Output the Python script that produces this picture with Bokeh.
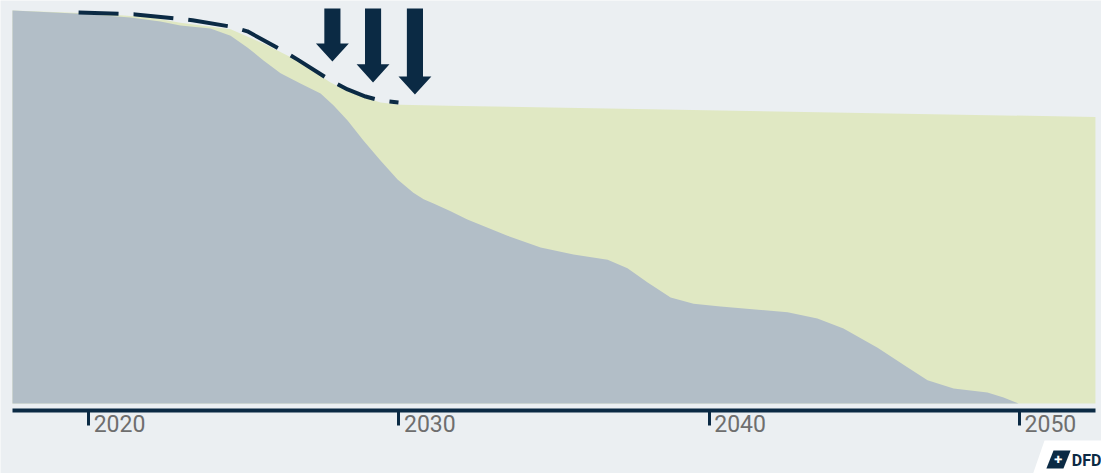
from bokeh.plotting import figure
from bokeh.models import Range1d, FixedTicker, LinearAxis, PolyAnnotation, Label
from bokeh.embed import file_html
from bokeh.resources import INLINE

# Fleet energy use relative to today (%), by year
remaining_years = [2017.55, 2019.74, 2021.35, 2022.32, 2022.96, 2023.93, 2024.58, 2025.12,
                   2025.64, 2026.19, 2026.83, 2027.48, 2027.90, 2028.35, 2028.86, 2029.41,
                   2029.96, 2030.47, 2030.80, 2031.12, 2031.67, 2032.21, 2033.50, 2034.57,
                   2035.63, 2036.73, 2037.37, 2038.02, 2038.76, 2039.50, 2040.37, 2042.53,
                   2043.49, 2044.33, 2045.43, 2046.39, 2047.04, 2047.88, 2048.97, 2049.49,
                   2049.87, 2049.97, 2052.45]
remaining_values = [100.0, 99.2, 98.2, 97.2, 96.2, 95.4, 93.6, 90.6,
                    87.3, 84.0, 81.4, 78.9, 75.8, 72.0, 66.9, 61.8,
                    57.0, 53.6, 52.0, 50.9, 48.9, 46.8, 42.7, 39.7,
                    37.9, 36.6, 34.4, 30.8, 27.0, 25.4, 24.7, 23.2,
                    21.6, 19.1, 14.2, 9.2, 5.9, 3.8, 2.8, 1.5,
                    0.3, 0.0, 0.0]

total_years = [2017.55, 2020.39, 2022.00, 2022.96, 2024.58, 2025.64, 2026.73, 2027.80,
               2028.44, 2029.41, 2030.05, 2031.99, 2052.45]
total_values = [100.0, 99.2, 98.2, 96.9, 95.2, 91.6, 87.3, 81.7,
                79.1, 76.6, 76.0, 75.7, 72.9]

target_years = [2019.68, 2021.51, 2022.80, 2023.35, 2024.58, 2025.12, 2026.19, 2026.74,
                2027.80, 2028.35, 2028.93, 2029.41, 2029.99]
target_values = [99.5, 99.0, 98.0, 97.5, 95.9, 94.7, 90.1, 87.5,
                 82.2, 79.9, 78.1, 77.1, 76.6]

arrow_years = [2027.86, 2029.17, 2030.52]
arrow_tops = [100.5, 100.5, 100.5]
arrow_tips = [87.0, 81.7, 78.6]

tick_years = [2020, 2030, 2040, 2050]
tick_labels = ["2020", "2030", "2040", "2050"]

NAVY = "#0b2a44"
GREY = "#b2bec7"
GREEN = "#e0e8c3"
BG = "#ebeff2"

X_START, X_END = 2017.164, 2052.646
Y_START, Y_END = -17.81, 102.54
AXIS_Y = -1.78          # where the time axis sits
LABEL_SHIFT = 1.0       # labels sit just right of their tick

p = figure(width=1101, height=473, output_backend="svg", toolbar_location=None,
           x_range=Range1d(X_START, X_END), y_range=Range1d(Y_START, Y_END),
           min_border=0, x_axis_location=None, y_axis_location=None,
           background_fill_color=BG, border_fill_color=BG, outline_line_color=None)
p.grid.visible = False
p.extra_x_ranges = {"labels": Range1d(X_START - LABEL_SHIFT, X_END - LABEL_SHIFT)}

# stacked areas
p.varea(x=total_years, y1=0, y2=total_values, fill_color=GREEN)
p.varea(x=remaining_years, y1=0, y2=remaining_values, fill_color=GREY)

# dashed target path
p.line(target_years, target_values, line_color=NAVY, line_width=4,
       line_dash="40 15", line_cap="butt")

# downward arrows
SHAFT_HALF = 0.26   # years
HEAD_HALF = 0.53    # years
HEAD_LEN = 4.6      # percent
axs, ays = [], []
for cx, top, tip in zip(arrow_years, arrow_tops, arrow_tips):
    neck = tip + HEAD_LEN
    axs.append([cx - SHAFT_HALF, cx + SHAFT_HALF, cx + SHAFT_HALF, cx + HEAD_HALF,
                cx, cx - HEAD_HALF, cx - SHAFT_HALF])
    ays.append([top, top, neck, neck, tip, neck, neck])
p.patches(axs, ays, fill_color=NAVY, line_color=None)

# time axis: year labels
label_axis = LinearAxis(x_range_name="labels", ticker=FixedTicker(ticks=tick_years),
                        fixed_location=AXIS_Y, axis_line_color=None,
                        major_tick_line_color=None, minor_tick_line_color=None,
                        major_tick_out=0, major_tick_in=0, major_label_standoff=5,
                        major_label_overrides=dict(zip(tick_years, tick_labels)),
                        major_label_text_font="Roboto", major_label_text_font_size="23px",
                        major_label_text_color="#6e6e6e")
p.add_layout(label_axis, "below")

# time axis: line and ticks
tick_axis = LinearAxis(ticker=FixedTicker(ticks=tick_years), fixed_location=AXIS_Y,
                       bounds=(total_years[0], total_years[-1]),
                       axis_line_color=NAVY, axis_line_width=4,
                       major_tick_line_color=NAVY, major_tick_line_width=3,
                       major_tick_out=15, major_tick_in=0, minor_tick_line_color=None,
                       major_label_overrides={t: "" for t in tick_years})
p.add_layout(tick_axis, "below")

# company mark in the corner
p.add_layout(PolyAnnotation(xs=[2050.81, 2053.5, 2053.5, 2050.39], ys=[-9.41, -9.41, -19.0, -19.0],
                            fill_color="white", fill_alpha=1, line_color=None))
p.add_layout(PolyAnnotation(xs=[2051.10, 2051.65, 2051.42, 2050.87], ys=[-11.96, -11.96, -16.54, -16.54],
                            fill_color=NAVY, fill_alpha=1, line_color=None))
p.add_layout(Label(x=2051.26, y=-14.25, text="✚", text_color="white", text_font_size="10px",
                   text_align="center", text_baseline="middle"))
p.add_layout(Label(x=2051.69, y=-14.6, text="DFDS", text_color=NAVY, text_font_size="16px",
                   text_font_style="bold", text_font="Roboto", text_baseline="alphabetic"))

open("out.html", "w").write(file_html(p, INLINE))
